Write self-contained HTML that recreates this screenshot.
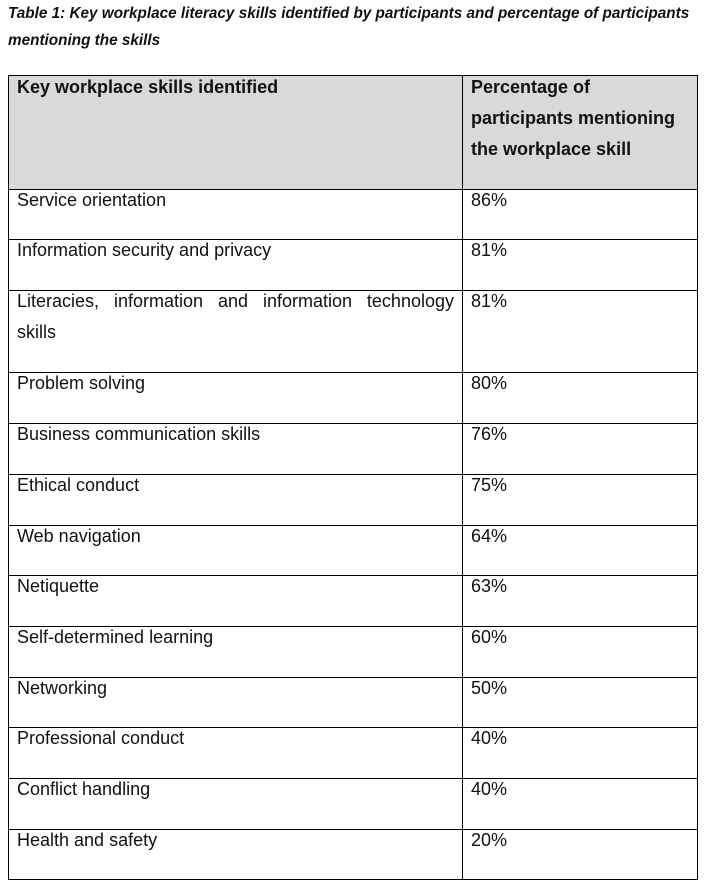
<!DOCTYPE html>
<html><head><meta charset="utf-8"><style>
body{margin:0;width:708px;height:888px;background:#fff;position:relative;overflow:hidden;font-family:"Liberation Sans",Arial,sans-serif;color:#111}
.t{position:absolute;font-size:18px;line-height:31px;white-space:nowrap}
.ti{position:absolute;left:8px;font-size:15.3px;font-weight:bold;font-style:italic;white-space:nowrap}
.h{position:absolute;left:8px;width:690px;height:1px;background:#000}
.v{position:absolute;top:75px;width:1px;height:805px;background:#000}
</style></head><body>
<div class="ti" style="top:5px;">Table 1: Key workplace literacy skills identified by participants and percentage of participants</div>
<div class="ti" style="top:32px;">mentioning the skills</div>
<div style="position:absolute;left:8px;top:75px;width:690px;height:114px;background:#d9d9d9"></div>
<div id="tbl"></div>
<script>
const skills=["Service orientation","Information security and privacy","Literacies, information and information technology skills","Problem solving","Business communication skills","Ethical conduct","Web navigation","Netiquette","Self-determined learning","Networking","Professional conduct","Conflict handling","Health and safety"];
const percents=["86%","81%","81%","80%","76%","75%","64%","63%","60%","50%","40%","40%","20%"];
const lines=[75,189,239,290,372,423,474,525,575,626,677,727,778,829,879];
const root=document.getElementById('tbl');
lines.forEach(y=>{const d=document.createElement('div');d.className='h';d.style.top=y+'px';


root.appendChild(d);});
[8,462,697].forEach(x=>{const d=document.createElement('div');d.className='v';d.style.left=x+'px';


root.appendChild(d);});
function txt(x,y,html,b,name){const d=document.createElement('div');d.className='t';d.style.left=x+'px';d.style.top=y+'px';d.innerHTML=html;if(b)d.style.fontWeight='bold';


root.appendChild(d);return d;}
txt(17,72,"Key workplace skills identified",true,'header-skill');
txt(471,72,"Percentage of<br>participants mentioning<br>the workplace skill",true,'header-percentage');
skills.forEach((s,i)=>{const y=lines[i+1]-4;
if(i===2){const d=txt(17,y,"Literacies, information and information technology<br>skills",false,'skill-name');
d.style.whiteSpace='normal';d.style.width='437px';d.style.textAlign='justify';d.style.textAlignLast='left';
d.innerHTML='<span style="display:block;text-align:justify;text-align-last:justify">Literacies, information and information technology</span>skills';}
else txt(17,y,s,false,'skill-name');
txt(471,y,percents[i],false,'skill-percentage');});
</script>
</body></html>
